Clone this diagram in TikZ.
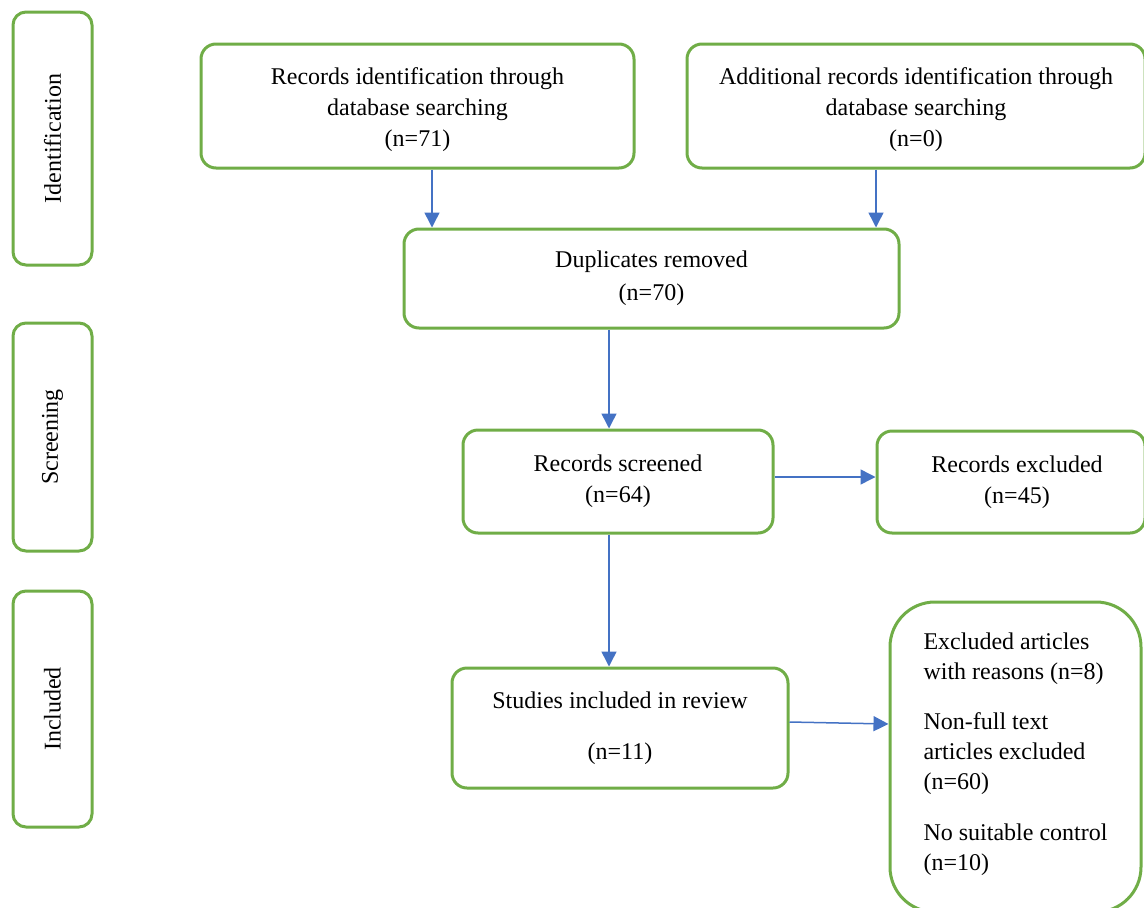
\documentclass[tikz,border=0pt]{standalone}
\usepackage{fontspec}
\setmainfont{Liberation Serif}
\usetikzlibrary{arrows.meta}
\definecolor{gr}{HTML}{70AD47}
\definecolor{bl}{HTML}{4472C4}
\begin{document}
\begin{tikzpicture}[x=1pt,y=-1pt,
  box/.style={draw=gr, line width=3pt, rounded corners=15pt, inner sep=0pt, align=center,
    font=\fontsize{24}{31}\selectfont},
  arr/.style={draw=bl, line width=1.5pt, -{Triangle[length=15pt,width=15pt]}}]
\useasboundingbox (0,0) rectangle (1144,908);
% phase boxes
\node[box, rounded corners=13pt, minimum width=79pt, minimum height=253pt] (ph1) at (52.5,138.5) {\rotatebox{90}{Identification}};
\node[box, rounded corners=13pt, minimum width=79pt, minimum height=228pt] (ph2) at (52.5,437) {\rotatebox{90}{Screening}};
\node[box, rounded corners=13pt, minimum width=79pt, minimum height=236pt] (ph3) at (52.5,709) {\rotatebox{90}{Included}};
% flow boxes
\node[box, minimum width=433pt, minimum height=124pt] (rid) at (417.5,106)
  {\rule{0pt}{24.5pt}Records identification through\\database searching\\(n=71)};
\node[box, minimum width=458pt, minimum height=124pt] (add) at (916,106)
  {\rule{0pt}{24.5pt}Additional records identification through\\database searching\\(n=0)};
\node[box, minimum width=495pt, minimum height=99pt] (dup) at (651.5,278.5)
  {Duplicates removed\\[2pt](n=70)};
\node[box, minimum width=310pt, minimum height=103pt] (scr) at (618,481.5)
  {Records screened\\(n=64)};
\node[box, minimum width=268pt, minimum height=102pt] (rex) at (1011,482)
  {\hspace*{12pt}Records excluded\\\hspace*{12pt}(n=45)};
\node[box, minimum width=336pt, minimum height=120pt] (stu) at (620,728)
  {Studies included in review\\[20pt](n=11)};
\node[box, rounded corners=45pt, minimum width=251pt, minimum height=310pt, align=left,
  font=\fontsize{24}{30}\selectfont] (exa) at (1015.5,757)
  {Excluded articles\\with reasons (n=8)\\[20pt]Non-full text\\articles excluded\\(n=60)\\[21pt]No suitable control\\(n=10)\rule[-11pt]{0pt}{0pt}};
% arrow positions
\coordinate (a1) at (432,0);
\coordinate (a2) at (876,0);
\coordinate (a3) at (609,0);
\coordinate (h1) at (0,477);
% connectors
\draw[arr] (rid.south -| a1) -- (dup.north -| a1);
\draw[arr] (add.south -| a2) -- (dup.north -| a2);
\draw[arr] (dup.south -| a3) -- (scr.north -| a3);
\draw[arr] (scr.east |- h1) -- (rex.west |- h1);
\draw[arr] (scr.south -| a3) -- (stu.north -| a3);
\draw[arr] ([yshift=6pt]stu.east) -- ([yshift=33pt]exa.west);
\end{tikzpicture}
\end{document}
